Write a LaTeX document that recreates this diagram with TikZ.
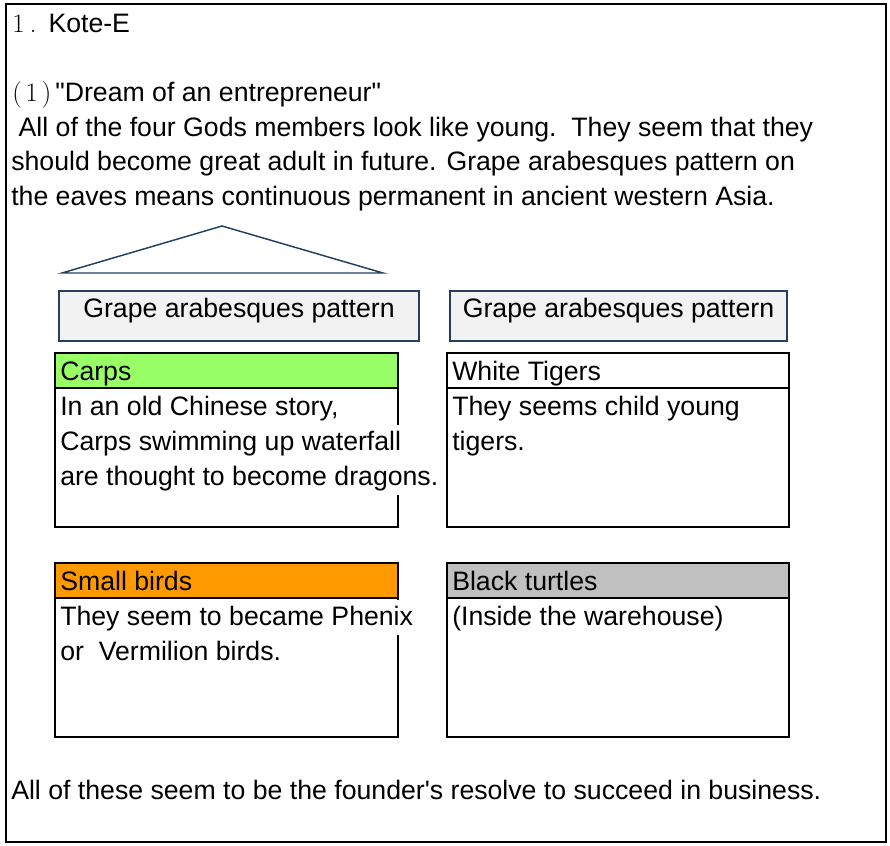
\documentclass[tikz,border=0pt]{standalone}
\usepackage{fontspec}
\setsansfont{Liberation Sans}[Ligatures=TeXOff]
\definecolor{carpgreen}{HTML}{99FF66}
\definecolor{birdorange}{HTML}{FF9900}
\definecolor{turtlegray}{HTML}{C0C0C0}
\definecolor{grapefill}{HTML}{F2F2F2}
\definecolor{roofblue}{HTML}{243F60}
\tikzset{
	line/.style={anchor=base west, inner sep=0},
	row/.style={anchor=base west, inner sep=0, text height=18.75pt, text depth=7.5pt},
	over/.style={row, fill=white, inner xsep=2pt, xshift=-2pt},
	hdr/.style={draw, line width=1.5pt, anchor=north west, inner sep=0, outer sep=0, minimum width=257.25pt, minimum height=26.25pt},
	bodybox/.style={draw, line width=1.5pt, anchor=north west, inner sep=0, outer sep=0, minimum width=257.25pt, minimum height=104.25pt},
	grape/.style={draw=roofblue, fill=grapefill, line width=1.2pt, minimum height=37.5pt, text height=10pt, text depth=8.5pt}
}
\begin{document}
\begin{tikzpicture}[x=0.75pt, y=-0.75pt, every node/.style={font=\sffamily\fontsize{20pt}{26pt}\selectfont}]
	\useasboundingbox (0,0) rectangle (890,846);
	\draw[line width=1.5pt] (6,4) rectangle (886,842);
	% heading text
	\node[line] (title) at (12,32) {{\rmfamily 1\hspace{4pt}.}\hspace{9pt}Kote-E};
	\node[line] (dream) at (12,101) {{\rmfamily(\hspace{3pt}1\hspace{3pt})}\hspace{3pt}"Dream of an entrepreneur"};
	\node[line] (txt1) at (11,136) {\ All of the four Gods members look like young.\ \ They seem that they};
	\node[line] (txt2) at (11,170) {should become great adult in future. Grape arabesques pattern on};
	\node[line] (txt3) at (11,205) {the eaves means continuous permanent in ancient western Asia.};
	% roof and eaves
	\draw[roofblue, line width=1.1pt] (62,273) -- (222,226) -- (383,273) -- cycle;
	\node[grape, minimum width=270pt] (grapeL) at (239,316) {Grape arabesques pattern};
	\node[grape, minimum width=252.75pt] (grapeR) at (618.5,316) {Grape arabesques pattern};
	% four boxes
	\node[hdr, fill=carpgreen] (carpsH) at (55,353) {};
	\node[bodybox] (carpsB) at (carpsH.south west) {};
	\node[hdr, minimum width=256.5pt] (tigerH) at (447,353) {};
	\node[bodybox, minimum width=256.5pt] (tigerB) at (tigerH.south west) {};
	\node[hdr, fill=birdorange] (birdH) at (55,563) {};
	\node[bodybox] (birdB) at (birdH.south west) {};
	\node[hdr, fill=turtlegray, minimum width=256.5pt] (turtleH) at (447,563) {};
	\node[bodybox, minimum width=256.5pt] (turtleB) at (turtleH.south west) {};
	% texts in boxes
	\node[row] (carpsT) at (60,380) {Carps};
	\node[row] (carps1) at (60,415) {In an old Chinese story,};
	\node[over] (carps2) at (60,450) {Carps swimming up waterfall};
	\node[over] (carps3) at (60,485) {are thought to become dragons.};
	\node[row] (tigerT) at (452,380) {White Tigers};
	\node[row] (tiger1) at (452,415) {They seems child young};
	\node[row] (tiger2) at (452,450) {tigers.};
	\node[row] (birdT) at (60,590) {Small birds};
	\node[over] (bird1) at (60,625) {They seem to became Phenix};
	\node[row] (bird2) at (60,660) {or\ \ Vermilion birds.};
	\node[row] (turtleT) at (452,590) {Black turtles};
	\node[row] (turtle1) at (452,625) {(Inside the warehouse)};
	% closing line
	\node[line] (resolve) at (11,799) {All of these seem to be the founder's resolve to succeed in business.};
\end{tikzpicture}
\end{document}
